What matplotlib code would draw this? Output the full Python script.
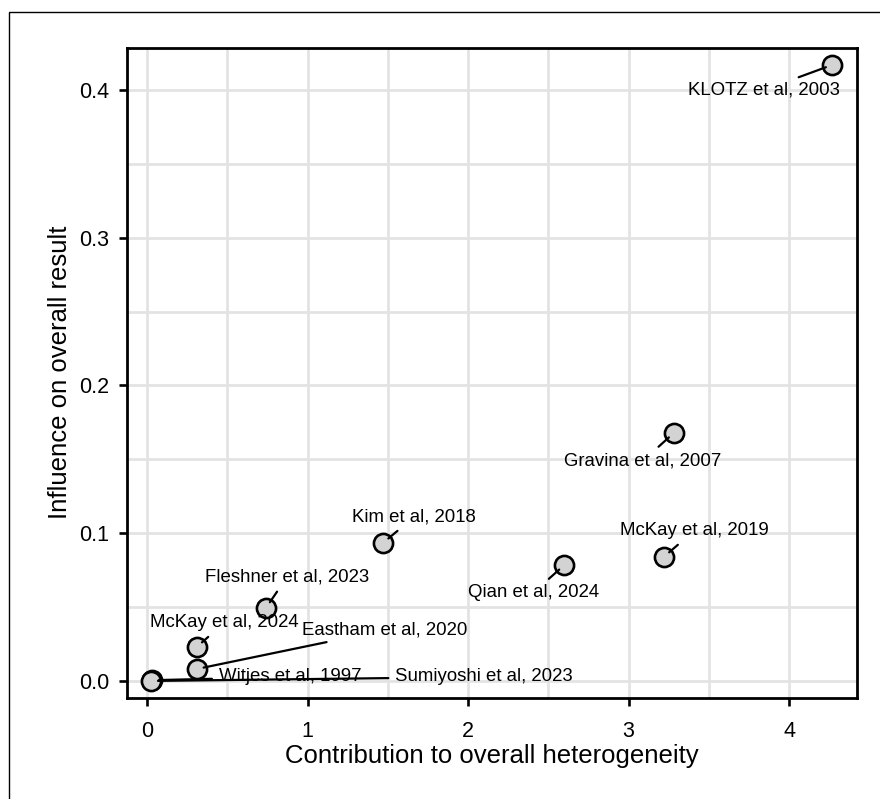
import matplotlib
matplotlib.use("Agg")
import matplotlib.pyplot as plt
from matplotlib.patches import Rectangle

plt.rcParams['font.family'] = ['Liberation Sans', 'DejaVu Sans']

# Baujat plot data: contribution to heterogeneity vs influence on the pooled result
studies = ["KLOTZ et al, 2003", "Gravina et al, 2007", "McKay et al, 2019",
           "Kim et al, 2018", "Qian et al, 2024", "Fleshner et al, 2023",
           "McKay et al, 2024", "Eastham et al, 2020", "Witjes et al, 1997",
           "Sumiyoshi et al, 2023"]
heterogeneity = [4.27, 3.283, 3.22, 1.47, 2.60, 0.741, 0.31, 0.31, 0.03, 0.025]
influence = [0.417, 0.168, 0.084, 0.0934, 0.0785, 0.0494, 0.023, 0.0081, 0.0005, 0.0]

# repelled label positions
label_x = [3.844, 3.09, 3.408, 1.664, 2.405, 0.872, 0.48, 1.483, 0.891, 2.10]
label_y = [0.400, 0.149, 0.1016, 0.111, 0.0596, 0.0704, 0.0393, 0.0345, 0.0027, 0.0027]

x_ticks = [0, 1, 2, 3, 4]
y_ticks = [0.0, 0.1, 0.2, 0.3, 0.4]

fig = plt.figure(figsize=(8.8, 7.99), dpi=100)
W, H = 880, 799
ax = fig.add_axes([127 / W, 1 - 697.5 / H, (856.5 - 127) / W, (697.5 - 48) / H])

ax.set_xlim(-0.125, 4.42)
ax.set_ylim(-0.0112, 0.4284)

# grid: major and minor lines
for v in [0, 0.5, 1, 1.5, 2, 2.5, 3, 3.5, 4]:
    ax.axvline(v, color="#e3e3e3", lw=2.0, zorder=0)
for v in [0, 0.05, 0.1, 0.15, 0.2, 0.25, 0.3, 0.35, 0.4]:
    ax.axhline(v, color="#e3e3e3", lw=2.0, zorder=0)

ax.scatter(heterogeneity, influence, s=190, facecolor="#d3d3d3",
           edgecolor="black", linewidth=1.9, zorder=3)

for name, x, y, lx, ly in zip(studies, heterogeneity, influence, label_x, label_y):
    ax.annotate(name, xy=(x, y), xytext=(lx, ly), ha="center", va="center",
                fontsize=13.4, color="black", zorder=4,
                arrowprops=dict(arrowstyle="-", color="black", lw=1.6,
                                shrinkA=3, shrinkB=5))

ax.set_xticks(x_ticks)
ax.set_xticklabels([str(t) for t in x_ticks])
ax.set_yticks(y_ticks)
ax.set_yticklabels([f"{t:.1f}" for t in y_ticks])
ax.tick_params(axis="both", length=6, width=1.9, color="black",
               labelsize=15.5, labelcolor="black")
ax.tick_params(axis="x", pad=11)
ax.tick_params(axis="y", pad=7)

for sp in ax.spines.values():
    sp.set_linewidth(2.0)
    sp.set_color("black")

ax.set_xlabel("Contribution to overall heterogeneity", fontsize=18.5, labelpad=1)
ax.set_ylabel("Influence on overall result", fontsize=18.5, labelpad=5)

# outer frame
fig.patches.append(Rectangle((9 / W, -0.1), 1.2, 1 - 12 / H + 0.1,
                             transform=fig.transFigure, fill=False,
                             edgecolor="black", lw=1.0, zorder=0))

fig.savefig("out.png", dpi=100)
